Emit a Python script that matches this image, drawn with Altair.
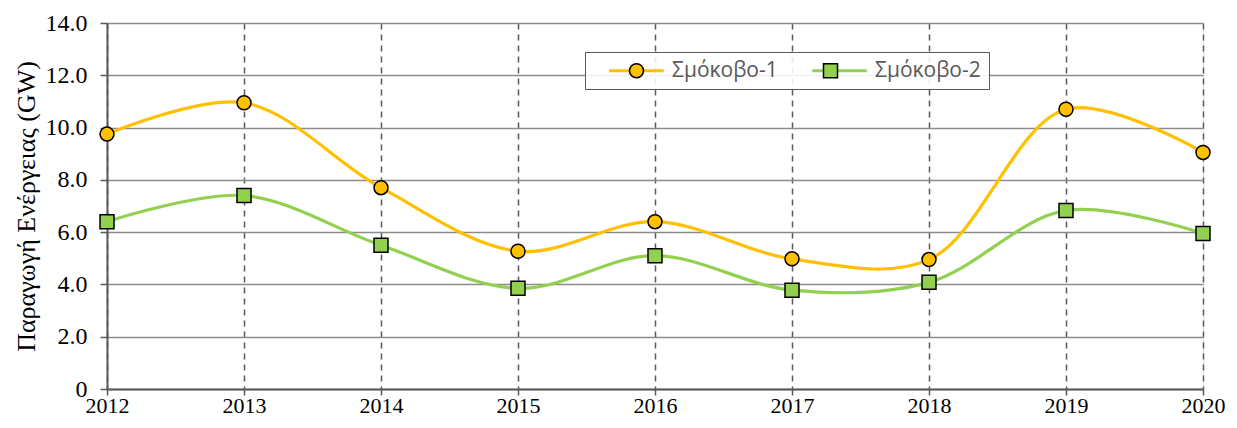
import altair as alt
import pandas as pd

years = [2012, 2013, 2014, 2015, 2016, 2017, 2018, 2019, 2020]
smokovo1 = [9.75, 10.95, 7.7, 5.27, 6.4, 4.98, 4.95, 10.7, 9.05]
smokovo2 = [6.4, 7.4, 5.5, 3.85, 5.1, 3.78, 4.08, 6.83, 5.95]
series_names = ["Σμόκοβο-1", "Σμόκοβο-2"]
colors = ["#FFC000", "#92D050"]
shapes = ["circle", "square"]
marker_edge = ["#000000", "#000000"]
y_ticks = [0, 2, 4, 6, 8, 10, 12, 14]

# marker legend uses a separate domain so it is not merged with the line legend
marker_names = [n + " " for n in series_names]

rows = []
for name, mname, vals in zip(series_names, marker_names, [smokovo1, smokovo2]):
    for yr, v in zip(years, vals):
        rows.append({"year": yr, "value": v, "s1": name, "s2": mname})
df = pd.DataFrame(rows)

W, H = 1096, 366

x_enc = alt.X(
    "year:Q",
    scale=alt.Scale(domain=[2012, 2020], nice=False, zero=False),
    axis=alt.Axis(
        values=years, format="d", title=None,
        grid=True, gridDash=[6, 5], gridColor="#595959", gridWidth=1.5,
        domainColor="#595959", domainWidth=2,
        tickColor="#595959", tickWidth=1.5, tickSize=6,
        labelFont="Liberation Serif", labelFontSize=22, labelColor="#000000",
        labelPadding=0, labelFlush=False,
    ),
)
y_enc = alt.Y(
    "value:Q",
    scale=alt.Scale(domain=[0, 14], nice=False),
    axis=alt.Axis(
        values=y_ticks, title="Παραγωγή Ενέργειας (GW)",
        labelExpr="datum.value == 0 ? '0' : format(datum.value, '.1f')",
        grid=True, gridColor="#8c8c8c", gridWidth=1.5,
        domainColor="#595959", domainWidth=2,
        tickColor="#595959", tickWidth=1.5, tickSize=7,
        labelFont="Liberation Serif", labelFontSize=24, labelColor="#000000",
        labelPadding=13,
        titleFont="Liberation Serif", titleFontSize=26, titleFontWeight="normal",
        titleColor="#000000", titlePadding=6,
    ),
)

legend_common = dict(
    orient="none", legendX=478, legendY=29, direction="horizontal",
    title=" ", titleOrient="left", titlePadding=33, titleFontSize=14,
    symbolSize=196, columns=2,
    labelFont="Open Sans", labelFontSize=21, labelColor="#595959",
    padding=8,
)

lines = alt.Chart(df).mark_line(interpolate="catmull-rom", strokeWidth=3.2).encode(
    x=x_enc, y=y_enc,
    color=alt.Color(
        "s1:N",
        scale=alt.Scale(domain=series_names, range=colors),
        legend=alt.Legend(
            symbolType="M-3.9,0L3.9,0", symbolStrokeWidth=3.2,
            labelOffset=25, columnPadding=27,
            fillColor="rgba(255,255,255,0.88)", strokeColor="#595959",
            zindex=1, **legend_common,
        ),
    ),
)

marker_legend = alt.Legend(
    labelExpr="''", labelOffset=0, columnPadding=173, zindex=2,
    symbolStrokeWidth=1.5,
    **legend_common,
)

points = alt.Chart(df).mark_point(filled=True, size=196, opacity=1).encode(
    x="year:Q", y="value:Q",
    fill=alt.Fill("s2:N", scale=alt.Scale(domain=marker_names, range=colors),
                  legend=marker_legend),
    shape=alt.Shape("s2:N", scale=alt.Scale(domain=marker_names, range=shapes),
                    legend=marker_legend),
    stroke=alt.Stroke("s2:N", scale=alt.Scale(domain=marker_names, range=marker_edge),
                      legend=marker_legend),
    strokeWidth=alt.value(1.5),
)

chart = (
    alt.layer(lines, points)
    .properties(
        width=W, height=H,
        autosize=alt.AutoSizeParams(type="none"),
        padding={"left": 99, "top": 15, "right": 26, "bottom": 31},
    )
    .configure_view(stroke="#8c8c8c", strokeWidth=1.5)
    .configure(background="#ffffff")
)

chart.save("out.html", embed_options={"renderer": "svg", "actions": False})
